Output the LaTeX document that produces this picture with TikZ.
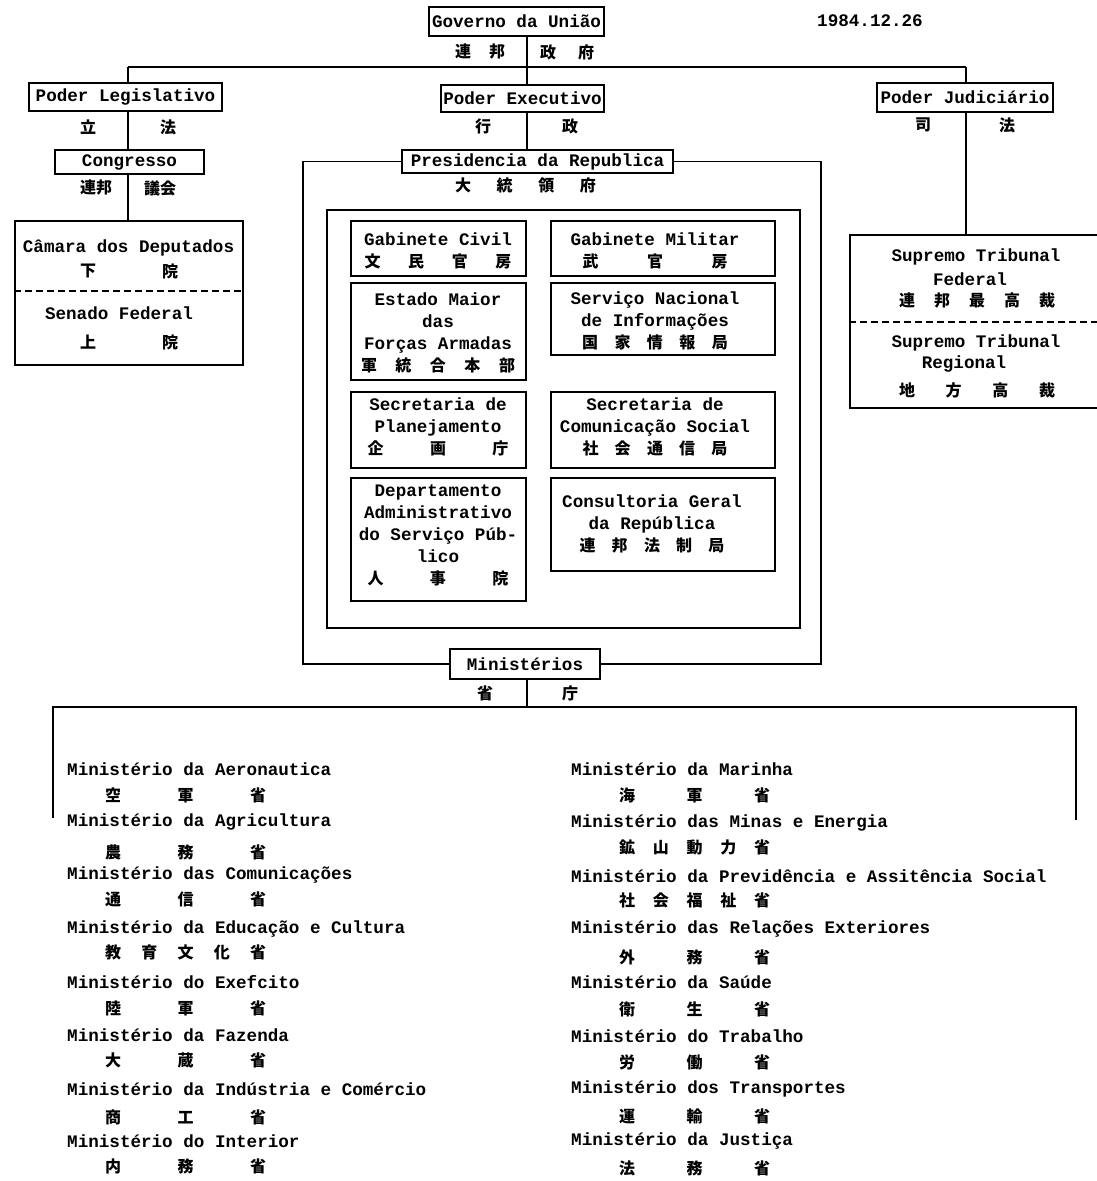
\documentclass[tikz,border=0pt]{standalone}
\usepackage{fontspec}
\setmonofont{Liberation Mono}
\newfontfamily\cjk{Noto Sans CJK JP}
\newcommand\cjs[2]{{\fontsize{16}{22}\selectfont\cjk\bfseries\makebox[#1pt][s]{#2}}}
\begin{document}
\begin{tikzpicture}[x=1pt,y=-1pt,
  lbl/.style={font=\fontsize{17.6}{22}\selectfont\ttfamily\bfseries, inner sep=0pt, align=center},
  cj/.style={font=\fontsize{16}{22}\selectfont\cjk\bfseries, inner sep=0pt},
  obox/.style={draw, line width=1.8pt, inner sep=0pt, font=\fontsize{17.6}{22}\selectfont\ttfamily\bfseries, align=center},
  conn/.style={line width=1.4pt},
  dline/.style={line width=1.3pt, dash pattern=on 7pt off 4pt}]
\useasboundingbox (0,0) rectangle (1096,1181);
\fill[white] (0,0) rectangle (1096,1181);

% ---- top
\node[obox, minimum width=175, minimum height=29] (gov) at (516.5,21.5) {Governo da União};
\node[lbl] (date) at (870,21) {1984.12.26};
\node[cj] (govjL) at (480,52) {\cjs{50}{連\hfill 邦}};
\node[cj] (govjR) at (567,52) {\cjs{54}{政\hfill 府}};
\coordinate (hTop) at (527,67);
\coordinate (hL) at (128,67);
\coordinate (hR) at (966,67);
\node[obox, minimum width=193, minimum height=28] (leg) at (125.5,97) {Poder Legislativo};
\node[obox, minimum width=163, minimum height=27] (exe) at (522.5,98.5) {Poder Executivo};
\node[obox, minimum width=176, minimum height=29] (jud) at (965,97.5) {Poder Judiciário};
\draw[conn] (gov.south -| hTop) -- (hTop);
\draw[conn] (hL) -- (hR);
\draw[conn] (hL) -- (leg.north -| hL);
\draw[conn] (hTop) -- (exe.north -| hTop);
\draw[conn] (hR) -- (jud.north -| hR);

% ---- legislative
\node[cj] (lj1) at (88,127) {立};
\node[cj] (lj2) at (168,127) {法};
\node[obox, minimum width=149, minimum height=24] (cong) at (129.5,162) {Congresso};
\draw[conn] (leg.south -| hL) -- (cong.north -| hL);
\node[cj] (cj1) at (96,188) {連邦};
\node[cj] (cj2) at (160,188) {議会};
\node[obox, minimum width=228, minimum height=144] (cam) at (129,293) {};
\draw[conn] (cong.south -| hL) -- (cam.north -| hL);
\coordinate (camd) at (0,291);
\draw[dline] (cam.west |- camd) -- (cam.east |- camd);
\node[lbl] (camt) at (128.5,248) {Câmara dos Deputados};
\node[cj] (camj1) at (88,271) {下};
\node[cj] (camj2) at (170,271) {院};
\node[lbl] (sent) at (119,313) {Senado Federal};
\node[cj] (senj1) at (88,342) {上};
\node[cj] (senj2) at (170,342) {院};

% ---- executive
\node[cj] (ej1) at (483,126) {行};
\node[cj] (ej2) at (570,126) {政};
\node[obox, minimum width=271, minimum height=23] (pres) at (537.5,161.5) {Presidencia da Republica};
\draw[conn] (exe.south -| hTop) -- (pres.north -| hTop);
\node[cj] (presj) at (525.5,185) {\cjs{141}{大\hfill 統\hfill 領\hfill 府}};
\node[obox, minimum width=150, minimum height=30] (min) at (525,664) {Ministérios};
\coordinate (oTL) at (303,161.5);
\coordinate (oBL) at (303,664);
\coordinate (oTR) at (821,161.5);
\coordinate (oBR) at (821,664);
\draw[conn] (pres.west) -- (oTL) -- (oBL) -- (min.west);
\draw[conn] (pres.east) -- (oTR) -- (oBR) -- (min.east);
\node[draw, line width=1.8pt, minimum width=473, minimum height=418, inner sep=0pt] (inner) at (563.5,419) {};

\node[obox, minimum width=175, minimum height=55] (gc) at (438.5,248.5) {};
\node[obox, minimum width=224, minimum height=55] (gm) at (663,248.5) {};
\node[obox, minimum width=175, minimum height=97] (em) at (438.5,331.5) {};
\node[obox, minimum width=224, minimum height=72] (sn) at (663,319) {};
\node[obox, minimum width=175, minimum height=76] (sp) at (438.5,430) {};
\node[obox, minimum width=224, minimum height=76] (sc) at (663,430) {};
\node[obox, minimum width=175, minimum height=123] (dasp) at (438.5,539.5) {};
\node[obox, minimum width=224, minimum height=93] (cg) at (663,524.5) {};

\node[lbl] (gct) at (438,250.5) {Gabinete Civil\\\cjs{147}{文\hfill 民\hfill 官\hfill 房}};
\node[lbl] (gmt) at (655,250.5) {Gabinete Militar\\\cjs{145}{武\hfill 官\hfill 房}};
\node[lbl] (emt) at (438,333) {Estado Maior\\das\\Forças Armadas\\\cjs{154}{軍\hfill 統\hfill 合\hfill 本\hfill 部}};
\node[lbl] (snt) at (655,321) {Serviço Nacional\\de Informações\\\cjs{146}{国\hfill 家\hfill 情\hfill 報\hfill 局}};
\node[lbl] (spt) at (438,426.5) {Secretaria de\\Planejamento\\\cjs{141}{企\hfill 画\hfill 庁}};
\node[lbl] (sct) at (655,426.5) {Secretaria de\\Comunicação Social\\\cjs{145}{社\hfill 会\hfill 通\hfill 信\hfill 局}};
\node[lbl] (daspt) at (438,535) {Departamento\\Administrativo\\do Serviço Púb-\\lico\\\cjs{141}{人\hfill 事\hfill 院}};
\node[lbl] (cgt) at (652,523.5) {Consultoria Geral\\da República\\\cjs{145}{連\hfill 邦\hfill 法\hfill 制\hfill 局}};

% ---- ministries
\node[cj] (mj1) at (485,693) {省};
\node[cj] (mj2) at (570,693) {庁};
\coordinate (mB) at (527,707);
\coordinate (mL) at (53,707);
\coordinate (mR) at (1076,707);
\coordinate (mLe) at (53,818);
\coordinate (mRe) at (1076,820);
\draw[conn] (min.south -| mB) -- (mB);
\draw[conn] (mLe) -- (mL) -- (mR) -- (mRe);

% ---- judiciary
\node[cj] (jj1) at (923,125) {司};
\node[cj] (jj2) at (1007,125) {法};
\node[obox, minimum width=250, minimum height=173] (stf) at (975,321.5) {};
\draw[conn] (jud.south -| hR) -- (stf.north -| hR);
\coordinate (stfd) at (0,322);
\draw[dline] (stf.west |- stfd) -- (stf.east |- stfd);
\node[lbl] (stf1) at (976,257) {Supremo Tribunal};
\node[lbl] (stf2) at (970,279) {Federal};
\node[cj] (stf3) at (977,300) {\cjs{156}{連\hfill 邦\hfill 最\hfill 高\hfill 裁}};
\node[lbl] (str1) at (976,343) {Supremo Tribunal};
\node[lbl] (str2) at (964,364) {Regional};
\node[cj] (str3) at (977,390) {\cjs{156}{地\hfill 方\hfill 高\hfill 裁}};

% ---- ministry list, left
\begin{scope}[every node/.append style={anchor=west}]
\node[lbl] (l1) at (67,769) {Ministério da Aeronautica};
\node[cj] (l1j) at (105,795) {\cjs{161}{空\hfill 軍\hfill 省}};
\node[lbl] (l2) at (67,822) {Ministério da Agricultura};
\node[cj] (l2j) at (105,852) {\cjs{161}{農\hfill 務\hfill 省}};
\node[lbl] (l3) at (67,875) {Ministério das Comunicações};
\node[cj] (l3j) at (105,899) {\cjs{161}{通\hfill 信\hfill 省}};
\node[lbl] (l4) at (67,929) {Ministério da Educação e Cultura};
\node[cj] (l4j) at (105,952) {\cjs{161}{教\hfill 育\hfill 文\hfill 化\hfill 省}};
\node[lbl] (l5) at (67,982) {Ministério do Exefcito};
\node[cj] (l5j) at (105,1008) {\cjs{161}{陸\hfill 軍\hfill 省}};
\node[lbl] (l6) at (67,1035) {Ministério da Fazenda};
\node[cj] (l6j) at (105,1060) {\cjs{161}{大\hfill 蔵\hfill 省}};
\node[lbl] (l7) at (67,1089) {Ministério da Indústria e Comércio};
\node[cj] (l7j) at (105,1117) {\cjs{161}{商\hfill 工\hfill 省}};
\node[lbl] (l8) at (67,1141) {Ministério do Interior};
\node[cj] (l8j) at (105,1166) {\cjs{161}{内\hfill 務\hfill 省}};
% right
\node[lbl] (r1) at (571,769) {Ministério da Marinha};
\node[cj] (r1j) at (619,795) {\cjs{151}{海\hfill 軍\hfill 省}};
\node[lbl] (r2) at (571,823) {Ministério das Minas e Energia};
\node[cj] (r2j) at (619,847) {\cjs{151}{鉱\hfill 山\hfill 動\hfill 力\hfill 省}};
\node[lbl] (r3) at (571,876) {Ministério da Previdência e Assitência Social};
\node[cj] (r3j) at (619,900) {\cjs{151}{社\hfill 会\hfill 福\hfill 祉\hfill 省}};
\node[lbl] (r4) at (571,929) {Ministério das Relações Exteriores};
\node[cj] (r4j) at (619,957) {\cjs{151}{外\hfill 務\hfill 省}};
\node[lbl] (r5) at (571,982) {Ministério da Saúde};
\node[cj] (r5j) at (619,1009) {\cjs{151}{衛\hfill 生\hfill 省}};
\node[lbl] (r6) at (571,1036) {Ministério do Trabalho};
\node[cj] (r6j) at (619,1062) {\cjs{151}{労\hfill 働\hfill 省}};
\node[lbl] (r7) at (571,1089) {Ministério dos Transportes};
\node[cj] (r7j) at (619,1116) {\cjs{151}{運\hfill 輸\hfill 省}};
\node[lbl] (r8) at (571,1141) {Ministério da Justiça};
\node[cj] (r8j) at (619,1168) {\cjs{151}{法\hfill 務\hfill 省}};
\end{scope}
\end{tikzpicture}
\end{document}
